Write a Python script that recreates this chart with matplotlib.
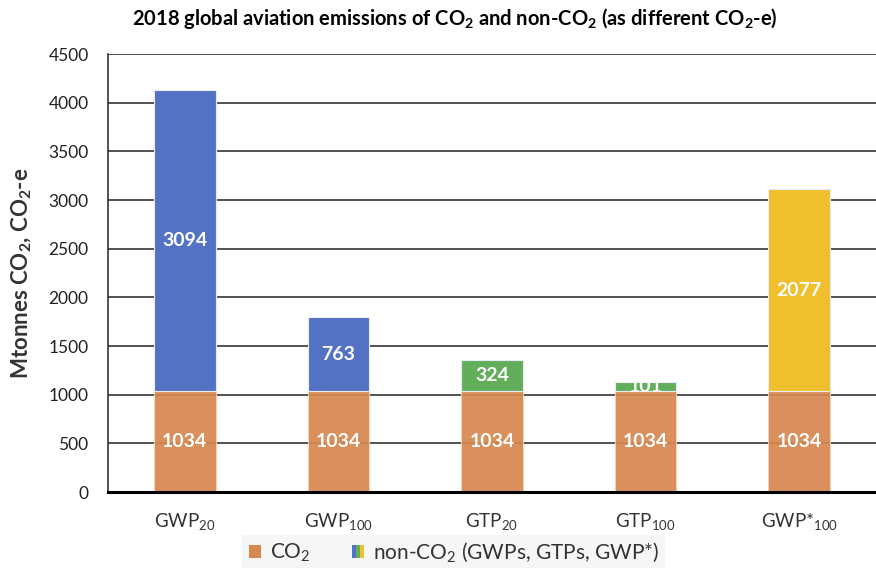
import matplotlib.pyplot as plt
from matplotlib.patches import Patch
from matplotlib.legend_handler import HandlerTuple

plt.rcParams['font.family'] = ['Lato', 'DejaVu Sans']
plt.rcParams['mathtext.default'] = 'regular'

# data
metrics = ['GWP$_{20}$', 'GWP$_{100}$', 'GTP$_{20}$', 'GTP$_{100}$', 'GWP*$_{100}$']
co2 = [1034, 1034, 1034, 1034, 1034]
non_co2 = [3094, 763, 324, 101, 2077]
non_co2_colors = ['#5472C4', '#5472C4', '#63AE5A', '#63AE5A', '#F0BF2E']
co2_color = '#D6884F'

fig = plt.figure(figsize=(8.76, 5.68), dpi=100)
ax = fig.add_axes([0.1233, 0.1338, 0.8767, 0.7711])

x = range(len(metrics))
width = 0.4

ax.bar(x, co2, width, color=co2_color, alpha=0.93, edgecolor='#f3d2bb',
       linewidth=0.8, zorder=3)
ax.bar(x, non_co2, width, bottom=co2, color=non_co2_colors,
       edgecolor='#e8ecf6', linewidth=0.8, zorder=3)

for i in x:
    ax.text(i, co2[i] / 2, str(co2[i]), ha='center', va='center',
            color='white', fontsize=14, fontweight='bold', zorder=4)
    ax.text(i, co2[i] + non_co2[i] / 2, str(non_co2[i]), ha='center',
            va='center', color='white', fontsize=14, fontweight='bold',
            zorder=4)

ax.set_ylim(0, 4500)
ax.set_yticks(range(0, 4501, 500))
ax.set_xlim(-0.5, len(metrics) - 0.5)
ax.set_xticks(list(x))
ax.set_xticklabels(metrics, fontsize=13.5, color='#333333')
ax.tick_params(axis='y', length=0, pad=14, labelsize=12.5, labelcolor='#222222')
ax.tick_params(axis='x', length=0, pad=14)
ax.yaxis.grid(True, color='#222222', linewidth=1.1, zorder=1)
ax.set_axisbelow(True)

for s in ['top', 'right']:
    ax.spines[s].set_visible(False)
ax.spines['left'].set_color('#222222')
ax.spines['left'].set_linewidth(1.1)
ax.spines['bottom'].set_color('black')
ax.spines['bottom'].set_linewidth(2.2)
ax.spines['bottom'].set_zorder(5)

ax.set_ylabel('Mtonnes CO$_2$, CO$_2$-e', fontsize=16, fontweight='bold',
              color='#333333', labelpad=10)
fig.text(0.519, 0.968, '2018 global aviation emissions of CO$_2$ and non-CO$_2$ (as different CO$_2$-e)',
         ha='center', va='center', fontsize=14.5, fontweight='bold')

h_co2 = Patch(facecolor=co2_color)
h_non = (Patch(facecolor='#5472C4'), Patch(facecolor='#63AE5A'), Patch(facecolor='#F0BF2E'))
leg = fig.legend([h_co2, h_non], ['CO$_2$', 'non-CO$_2$ (GWPs, GTPs, GWP*)'],
                 handler_map={tuple: HandlerTuple(ndivide=None, pad=0)},
                 loc='center', bbox_to_anchor=(0.518, 0.027), ncol=2,
                 fontsize=15, frameon=True, fancybox=False,
                 handlelength=0.6, handleheight=0.6, handletextpad=0.4,
                 columnspacing=2.0, borderpad=0.3)
leg.get_frame().set_facecolor('#f4f4f4')
leg.get_frame().set_edgecolor('none')
for t in leg.get_texts():
    t.set_color('#333333')

fig.savefig('out.png', dpi=100)
